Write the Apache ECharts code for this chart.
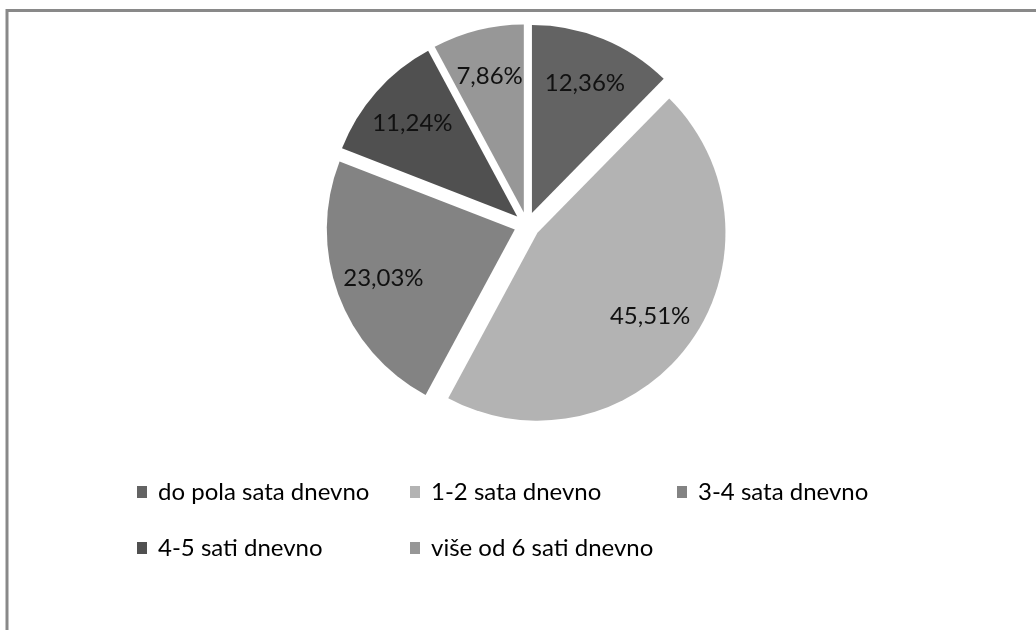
<!DOCTYPE html>
<html>
<head>
<meta charset="utf-8">
<script src="https://cdn.jsdelivr.net/npm/echarts@6/dist/echarts.min.js"></script>
<style>
  html, body { margin: 0; padding: 0; background: #fff; }
  #pieChart { width: 1036px; height: 630px; }
</style>
</head>
<body>
<div id="pieChart"></div>
<script>
// kategorije i udjeli (%)
const categories = ['do pola sata dnevno', '1-2 sata dnevno', '3-4 sata dnevno', '4-5 sati dnevno', 'više od 6 sati dnevno'];
const shares = [12.36, 45.51, 23.03, 11.24, 7.86];
const sliceColors = ['#636363', '#b3b3b3', '#838383', '#505050', '#979797'];

const fontFamily = 'Lato';
const frameColor = '#898989';

// raspored legende: 3 stupca, 2 reda
const legendCols = [137, 410, 677];
const legendRows = [480, 536];

const chart = echarts.init(document.getElementById('pieChart'));

// zarez kao decimalni separator
const fmtPct = v => v.toFixed(2).replace('.', ',') + '%';

const legends = categories.map((name, i) => ({
  left: legendCols[i % 3],
  top: legendRows[Math.floor(i / 3)],
  padding: 0,
  icon: 'rect',
  itemWidth: 10,
  itemHeight: 12,
  selectedMode: false,
  textStyle: {
    fontFamily,
    fontSize: 24,
    color: '#000',
    padding: [0, 0, 0, 6]
  },
  data: [name]
}));

chart.setOption({
  animation: false,
  backgroundColor: '#fff',
  graphic: [
    { type: 'line', shape: { x1: 7, y1: 10.5, x2: 1036, y2: 10.5 }, style: { stroke: frameColor, lineWidth: 3 } },
    { type: 'line', shape: { x1: 7, y1: 9, x2: 7, y2: 630 }, style: { stroke: frameColor, lineWidth: 3 } }
  ],
  legend: legends,
  series: [
    {
      // isječci (razmaknuti)
      type: 'pie',
      center: [527, 225],
      radius: 188,
      startAngle: 90,
      selectedMode: 'multiple',
      selectedOffset: 13,
      emphasis: { disabled: true },
      select: { itemStyle: { borderWidth: 0 } },
      label: { show: false },
      labelLine: { show: false },
      data: categories.map((name, i) => ({
        name,
        value: shares[i],
        selected: true,
        itemStyle: { color: sliceColors[i] }
      }))
    },
    {
      // samo oznake postotaka
      type: 'pie',
      silent: true,
      center: [527, 225],
      radius: 300,
      startAngle: 90,
      selectedMode: false,
      emphasis: { disabled: true },
      itemStyle: { color: 'rgba(0,0,0,0)' },
      label: {
        show: true,
        position: 'inside',
        fontFamily,
        fontSize: 24,
        color: '#111',
        formatter: p => fmtPct(p.value)
      },
      labelLine: { show: false },
      data: categories.map((name, i) => ({ name, value: shares[i] }))
    }
  ]
});
</script>
</body>
</html>
